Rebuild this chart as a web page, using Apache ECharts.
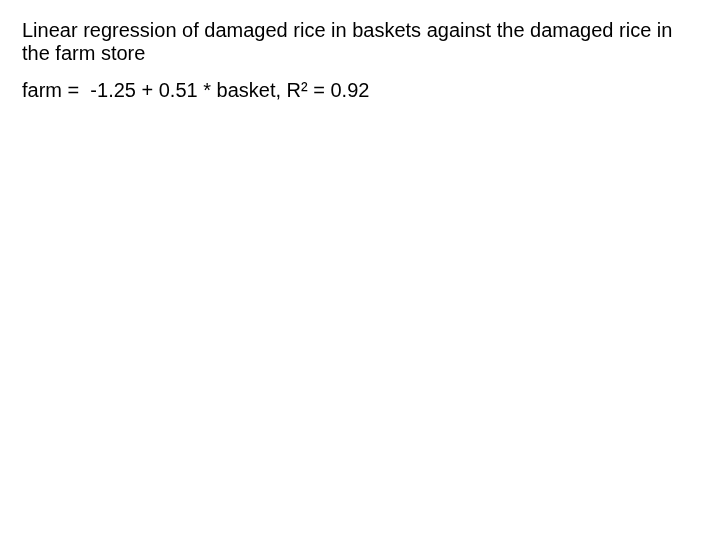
<!DOCTYPE html>
<html>
<head>
<meta charset="utf-8">
<script src="https://cdn.jsdelivr.net/npm/echarts@6/dist/echarts.min.js"></script>
<style>
	html, body { margin: 0; padding: 0; background: #fff; }
	#chart { width: 720px; height: 540px; }
</style>
</head>
<body>
<div id="chart"></div>
<script>
// regression result shown on the slide
const yName = 'farm';
const xName = 'basket';
const intercept = [-1.25];
const slope = [0.51];
const rSquared = [0.92];
const titleLines = [
	'Linear regression of damaged rice in baskets against the damaged rice in',
	'the farm store'
];

const fontFamily = '"Liberation Sans", Arial, sans-serif';

const equation = yName + ' =  ' + intercept[0].toFixed(2) + ' + ' + slope[0].toFixed(2) +
	' * ' + xName + ', R\u00b2 = ' + rSquared[0].toFixed(2);

const textStyle = {
	fontFamily: fontFamily,
	fontSize: 20,
	fontWeight: 'normal',
	color: '#000',
	lineHeight: 23
};

const myChart = echarts.init(document.getElementById('chart'));

const option = {
	backgroundColor: '#ffffff',
	animation: false,
	title: [
		{
			text: titleLines.join('\n'),
			left: 22,
			top: 19.5,
			padding: 0,
			textStyle: textStyle
		},
		{
			text: equation,
			left: 22,
			top: 80,
			padding: 0,
			textStyle: textStyle
		}
	]
};

myChart.setOption(option);
</script>
</body>
</html>
